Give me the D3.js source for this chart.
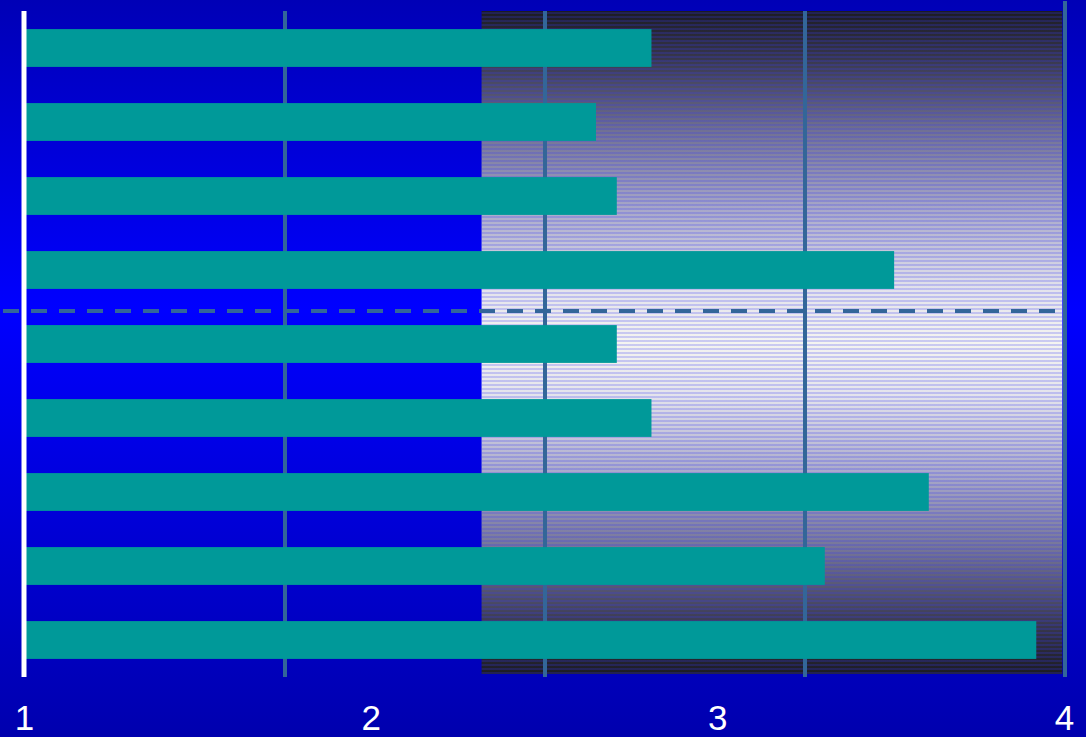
<!DOCTYPE html>
<html>
<head>
<meta charset="utf-8">
<script src="https://cdn.jsdelivr.net/npm/d3@7"></script>
<style>
  html, body { margin: 0; padding: 0; background: #0000c0; }
  svg { display: block; }
</style>
</head>
<body>
<svg id="chart" width="1086" height="737"></svg>
<script>
// Categories, top to bottom
const categories = ["c1", "c2", "c3", "c4", "c5", "c6", "c7", "c8", "c9"];
// Bar values (scale runs 1 to 4)
const values = [2.81, 2.65, 2.71, 3.51, 2.71, 2.81, 3.61, 3.31, 3.92];
// Axis tick labels
const tickValues = [1, 2, 3, 4];
// Vertical grid lines
const gridValues = [1.75, 2.5, 3.25, 4];
// Shaded band on the value axis
const bandFrom = 2.32, bandTo = 3.995;

const W = 1086, H = 737;
const plotTop = 11, plotBottom = 677;

const svg = d3.select("#chart");
const defs = svg.append("defs");

// Page background: blue, brightest a little above middle
const bg = defs.append("linearGradient").attr("id", "bgGrad")
  .attr("x1", 0).attr("y1", 0).attr("x2", 0).attr("y2", 1);
[[0, "#0000b6"], [0.42, "#0000ff"], [1, "#0000ae"]].forEach(([o, c]) =>
  bg.append("stop").attr("offset", o).attr("stop-color", c));

// Shaded band: dark at top/bottom, white in the middle
const sh = defs.append("linearGradient").attr("id", "shadeGrad")
  .attr("x1", 0).attr("y1", 0).attr("x2", 0).attr("y2", 1);
[[0, "#0e0e1a"], [0.07, "#2c2c48"], [0.18, "#6c6c98"], [0.3, "#aaaad4"], [0.42, "#ececfa"],
 [0.5, "#ffffff"], [0.58, "#ececfa"], [0.7, "#aaaad4"], [0.82, "#6c6c98"], [0.93, "#2c2c48"], [1, "#0e0e1a"]]
  .forEach(([o, c]) => sh.append("stop").attr("offset", o).attr("stop-color", c));

// Horizontal banding texture over the shaded band
const pat = defs.append("pattern").attr("id", "stripes")
  .attr("patternUnits", "userSpaceOnUse").attr("width", 8).attr("height", 4);
pat.append("rect").attr("x", 0).attr("y", 0).attr("width", 8).attr("height", 2)
  .attr("fill", "rgba(80,80,210,0.30)");
pat.append("rect").attr("x", 0).attr("y", 2).attr("width", 8).attr("height", 2)
  .attr("fill", "rgba(150,150,110,0.10)");

svg.append("rect").attr("width", W).attr("height", H).attr("fill", "url(#bgGrad)");

const x = d3.scaleLinear().domain([1, 4]).range([24, 1064]);
const y = d3.scaleBand().domain(categories).range([plotTop, plotBottom])
  .paddingInner(0.489).paddingOuter(0.2445);

// Shaded band
const shadeH = 674 - plotTop;
svg.append("rect")
  .attr("x", x(bandFrom)).attr("y", plotTop)
  .attr("width", x(bandTo) - x(bandFrom)).attr("height", shadeH)
  .attr("fill", "url(#shadeGrad)");
svg.append("rect")
  .attr("x", x(bandFrom)).attr("y", plotTop)
  .attr("width", x(bandTo) - x(bandFrom)).attr("height", shadeH)
  .attr("fill", "url(#stripes)");

// Grid lines
svg.append("g").selectAll("line").data(gridValues).join("line")
  .attr("x1", d => x(d) + 1).attr("x2", d => x(d) + 1)
  .attr("y1", d => d === 4 ? 1 : plotTop).attr("y2", plotBottom)
  .attr("stroke", "#336699").attr("stroke-width", 4);

// Bars
svg.append("g").selectAll("rect").data(values).join("rect")
  .attr("x", x(1))
  .attr("y", (d, i) => y(categories[i]))
  .attr("width", d => x(d) - x(1))
  .attr("height", y.bandwidth())
  .attr("fill", "#009999");

// Dashed separator between the fourth and fifth bars
const sepY = (y(categories[3]) + y.bandwidth() + y(categories[4])) / 2 + 4;
svg.append("line")
  .attr("x1", 3).attr("x2", 1058).attr("y1", sepY).attr("y2", sepY)
  .attr("stroke", "#336699").attr("stroke-width", 4)
  .attr("stroke-dasharray", "16,12");

// Value axis line
svg.append("line")
  .attr("x1", x(1)).attr("x2", x(1)).attr("y1", plotTop).attr("y2", plotBottom)
  .attr("stroke", "#ffffff").attr("stroke-width", 5);

// Tick labels
const axis = d3.axisBottom(x).tickValues(tickValues).tickFormat(d3.format("d"))
  .tickSize(0).tickPadding(0);
const gAxis = svg.append("g").attr("transform", "translate(0,700)").call(axis);
gAxis.select(".domain").remove();
gAxis.selectAll("text")
  .attr("fill", "#ffffff")
  .attr("dy", 0).attr("y", 30)
  .style("font-family", "'Liberation Sans', Arial, sans-serif")
  .style("font-size", "35px");
</script>
</body>
</html>
